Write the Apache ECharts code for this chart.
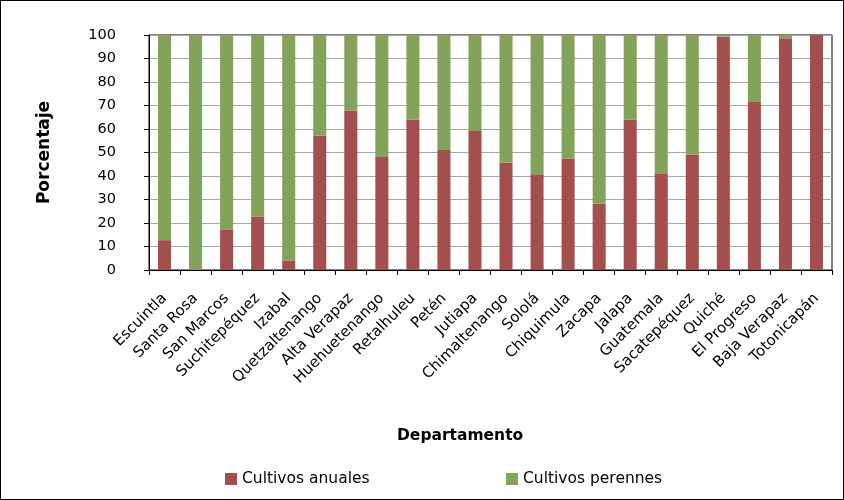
<!DOCTYPE html>
<html>
<head>
<meta charset="utf-8">
<script src="https://cdn.jsdelivr.net/npm/echarts@6/dist/echarts.min.js"></script>
<style>
  html, body { margin: 0; padding: 0; background: #fff; }
  #chart { width: 844px; height: 500px; box-sizing: border-box; border: 1px solid #000; }
</style>
</head>
<body>
<div id="chart"></div>
<script>
// departamentos
var departamentos = ['Escuintla', 'Santa Rosa', 'San Marcos', 'Suchitepéquez', 'Izabal',
  'Quetzaltenango', 'Alta Verapaz', 'Huehuetenango', 'Retalhuleu', 'Petén', 'Jutiapa',
  'Chimaltenango', 'Sololá', 'Chiquimula', 'Zacapa', 'Jalapa', 'Guatemala',
  'Sacatepéquez', 'Quiché', 'El Progreso', 'Baja Verapaz', 'Totonicapán'];
// % cultivos anuales
var anuales = [12.7, 0, 17.3, 22.7, 4.1, 57.1, 67.9, 48.1, 64.0, 51.1, 59.2,
  45.6, 40.7, 47.5, 28.3, 64.0, 41.2, 49.1, 99.3, 71.5, 98.6, 100];
// % cultivos perennes
var perennes = [87.3, 100, 82.7, 77.3, 95.9, 42.9, 32.1, 51.9, 36.0, 48.9, 40.8,
  54.4, 59.3, 52.5, 71.7, 36.0, 58.8, 50.9, 0.7, 28.5, 1.4, 0];
var yTicks = [0, 10, 20, 30, 40, 50, 60, 70, 80, 90, 100];

var font = 'DejaVu Sans, Verdana, sans-serif';
var chart = echarts.init(document.getElementById('chart'), null, { renderer: 'canvas' });
var option = {
  animation: false,
  textStyle: { fontFamily: font, color: '#000' },
  title: {
    text: 'Departamento',
    left: 396, top: 427, padding: 0,
    textStyle: { fontFamily: font, fontSize: 15.5, fontWeight: 'bold', color: '#000' }
  },
  grid: {
    left: 148, right: 11, top: 34, bottom: 229,
    show: true, borderColor: '#000', borderWidth: 1
  },
  legend: [
    {
      data: ['Cultivos anuales'], left: 224, top: 470, padding: 0,
      icon: 'rect', itemWidth: 12, itemHeight: 12, itemGap: 4,
      textStyle: { fontFamily: font, fontSize: 15.5, color: '#000' }
    },
    {
      data: ['Cultivos perennes'], left: 505, top: 470, padding: 0,
      icon: 'rect', itemWidth: 12, itemHeight: 12, itemGap: 4,
      textStyle: { fontFamily: font, fontSize: 15.5, color: '#000' }
    }
  ],
  xAxis: {
    type: 'category',
    data: departamentos,
    axisLine: { lineStyle: { color: '#000', width: 1 } },
    axisTick: { show: true, length: 5, lineStyle: { color: '#000' } },
    axisLabel: { interval: 0, rotate: 45, fontSize: 15, color: '#000', margin: 26 }
  },
  yAxis: {
    type: 'value',
    min: 0, max: 100, interval: 10,
    name: 'Porcentaje',
    nameLocation: 'middle',
    nameGap: 96,
    nameTextStyle: { fontFamily: font, fontSize: 17, fontWeight: 'bold', color: '#000' },
    axisLine: { show: true, lineStyle: { color: '#000', width: 1 } },
    axisTick: { show: true, length: 5, lineStyle: { color: '#000' } },
    axisLabel: {
      fontSize: 14.5, color: '#000', margin: 33,
      formatter: function (v) { return yTicks.indexOf(v) >= 0 ? String(v) : ''; }
    },
    splitLine: { show: true, lineStyle: { color: '#a6a6a6', width: 1 } }
  },
  series: [
    {
      name: 'Cultivos anuales', type: 'bar', stack: 'total',
      barWidth: '42%',
      itemStyle: { color: '#a24f4d' },
      data: anuales
    },
    {
      name: 'Cultivos perennes', type: 'bar', stack: 'total',
      barWidth: '42%',
      itemStyle: { color: '#83a35a' },
      data: perennes
    }
  ]
};
chart.setOption(option);
</script>
</body>
</html>
